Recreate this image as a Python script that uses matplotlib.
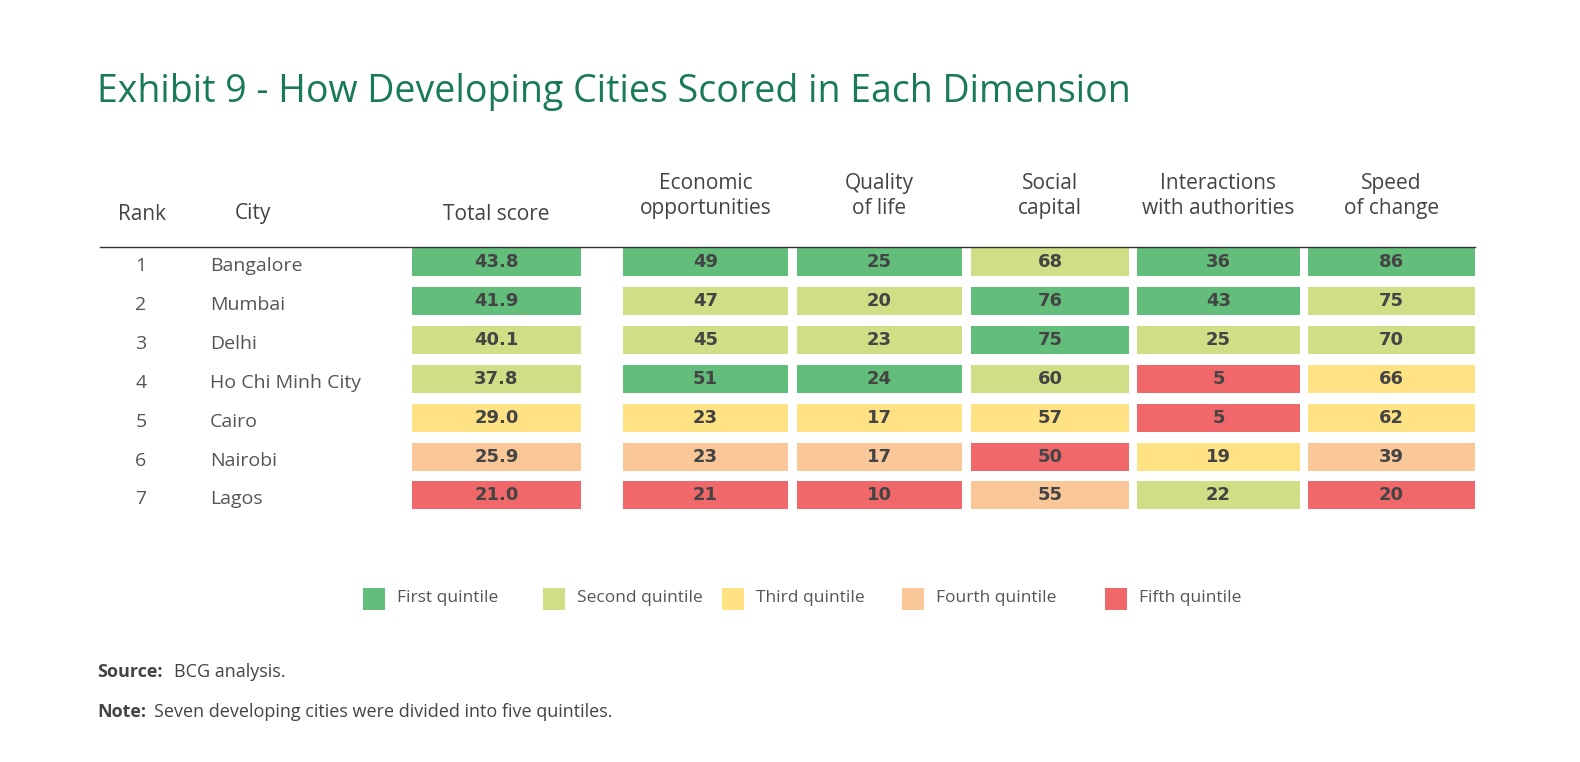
import matplotlib
matplotlib.use('Agg')
import matplotlib.pyplot as plt
from matplotlib.patches import Rectangle

ranks = [1, 2, 3, 4, 5, 6, 7]
cities = ["Bangalore", "Mumbai", "Delhi", "Ho Chi Minh City", "Cairo", "Nairobi", "Lagos"]
columns = ["Total score", "Economic\nopportunities", "Quality\nof life", "Social\ncapital",
           "Interactions\nwith authorities", "Speed\nof change"]
total = ["43.8", "41.9", "40.1", "37.8", "29.0", "25.9", "21.0"]
economic = [49, 47, 45, 51, 23, 23, 21]
quality = [25, 20, 23, 24, 17, 17, 10]
social = [68, 76, 75, 60, 57, 50, 55]
interactions = [36, 43, 25, 5, 5, 19, 22]
speed = [86, 75, 70, 66, 62, 39, 20]
# quintile per cell (0 = first ... 4 = fifth)
quintiles = [
    [0, 0, 0, 1, 0, 0],
    [0, 1, 1, 0, 0, 1],
    [1, 1, 1, 0, 1, 1],
    [1, 0, 0, 1, 4, 2],
    [2, 2, 2, 2, 4, 2],
    [3, 3, 3, 4, 2, 3],
    [4, 4, 4, 3, 1, 4],
]
legend_labels = ["First quintile", "Second quintile", "Third quintile", "Fourth quintile", "Fifth quintile"]
colors = ["#63BE7B", "#CFDF86", "#FFE283", "#FAC898", "#F0686A"]

values = [total, economic, quality, social, interactions, speed]
col_left = [412, 623, 797, 971, 1137, 1308]
col_right = [581, 788, 962, 1129, 1300, 1475]
row_y0, row_step, cell_h = 262, 38.9, 28

fig = plt.figure(figsize=(15.8, 7.62), dpi=100)
ax = fig.add_axes([0, 0, 1, 1])
ax.set_xlim(0, 1580)
ax.set_ylim(762, 0)
ax.axis('off')

ax.text(97, 92, "Exhibit 9 - How Developing Cities Scored in Each Dimension",
        fontsize=27, color="#197A56", va='center', family="Open Sans")

hdr = dict(fontsize=15, color="#444444", ha='center', family="Open Sans")
ax.text(142, 214, "Rank", va='center', **hdr)
ax.text(253, 214, "City", va='center', **hdr)
for j, name in enumerate(columns):
    cx = (col_left[j] + col_right[j]) / 2
    if "\n" in name:
        ax.text(cx, 196, name, va='center', linespacing=1.25, **hdr)
    else:
        ax.text(cx, 214, name, va='center', **hdr)
ax.plot([100, 1475], [247, 247], color="#333333", lw=1)

for i in range(len(cities)):
    y = row_y0 + i * row_step
    ax.text(141, y + 4, str(ranks[i]), fontsize=14, color="#555555", ha='center', va='center',
            family="Open Sans")
    ax.text(210, y + 4, cities[i], fontsize=14, color="#555555", va='center', family="Open Sans")
    for j in range(len(columns)):
        ax.add_patch(Rectangle((col_left[j], y - cell_h / 2), col_right[j] - col_left[j], cell_h,
                               facecolor=colors[quintiles[i][j]], edgecolor='none'))
        ax.text((col_left[j] + col_right[j]) / 2, y, str(values[j][i]), fontsize=13,
                fontweight='bold', color="#444444", ha='center', va='center', family="DejaVu Sans")

leg_x = [363, 543, 722, 902, 1105]
for k, lab in enumerate(legend_labels):
    ax.add_patch(Rectangle((leg_x[k], 588), 22, 22, facecolor=colors[k], edgecolor='none'))
    ax.text(leg_x[k] + 34, 598, lab, fontsize=12.5, color="#555555", va='center', family="Open Sans")

ax.text(97, 672, "Source:", fontsize=13, fontweight='bold', color="#444444", va='center',
        family="Open Sans")
ax.text(174, 672, "BCG analysis.", fontsize=13, color="#444444", va='center', family="Open Sans")
ax.text(97, 712, "Note:", fontsize=13, fontweight='bold', color="#444444", va='center',
        family="Open Sans")
ax.text(154, 712, "Seven developing cities were divided into five quintiles.", fontsize=13,
        color="#444444", va='center', family="Open Sans")

fig.savefig("out.png", dpi=100)
